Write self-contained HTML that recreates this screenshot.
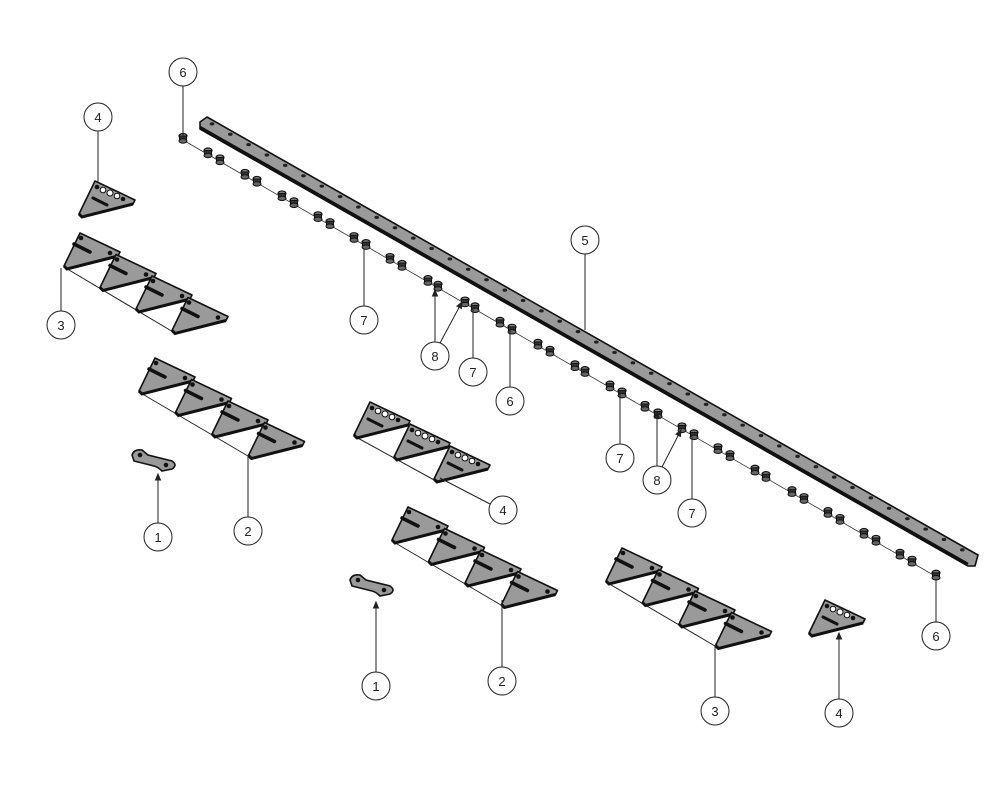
<!DOCTYPE html>
<html><head><meta charset="utf-8"><style>
html,body{margin:0;padding:0;background:#fff;}
svg{display:block;}
text{font-family:"Liberation Sans",sans-serif;font-size:13px;fill:#222;}
</style></head><body>
<svg id="s" width="1000" height="800" viewBox="0 0 1000 800" xmlns="http://www.w3.org/2000/svg">
<defs>
<g id="sec">
<polygon points="0,0 40,19 38,23 -13,36 -16,33" fill="#9a9a9a" stroke="#111" stroke-width="1.6" stroke-linejoin="round"/>
<polyline points="-16,33 -13,36 38,23" fill="none" stroke="#111" stroke-width="3"/>
<line x1="-6" y1="11" x2="10" y2="19" stroke="#111" stroke-width="3.5" stroke-linecap="round"/>
<circle cx="1" cy="5" r="2.3" fill="#111"/>
<circle cx="30" cy="20" r="2.3" fill="#111"/>
</g>
<g id="sec4">
<polygon points="0,0 40,19 38,23 -13,36 -16,33" fill="#9a9a9a" stroke="#111" stroke-width="1.6" stroke-linejoin="round"/>
<polyline points="-16,33 -13,36 38,23" fill="none" stroke="#111" stroke-width="3"/>
<circle cx="2" cy="6" r="2.3" fill="#111"/><circle cx="8" cy="9" r="2.8" fill="#fff" stroke="#111"/>
<circle cx="15" cy="12" r="3" fill="#fff" stroke="#111"/><circle cx="22" cy="15" r="2.8" fill="#fff" stroke="#111"/>
<circle cx="28" cy="18" r="2.3" fill="#111"/>
<line x1="-2" y1="17" x2="12" y2="24" stroke="#111" stroke-width="3" stroke-linecap="round"/>
</g>
<g id="bolt">
<ellipse cx="0" cy="0" rx="4" ry="2.5" fill="#888" stroke="#111" stroke-width="1.2"/>
<rect x="-3.5" y="0" width="7" height="5" fill="#333" stroke="#111" stroke-width="1"/>
<ellipse cx="0" cy="5" rx="4" ry="2.2" fill="#666" stroke="#111" stroke-width="1"/>
</g>
<g id="clip">
<path d="M0,6 Q2,0 10,1 L16,6 L40,12 Q46,16 40,20 L30,22 Q26,18 22,17 L2,12 Z" fill="#9a9a9a" stroke="#111" stroke-width="1.6"/>
<circle cx="8" cy="6" r="2.3" fill="#111"/><circle cx="34" cy="16" r="2.3" fill="#111"/>
</g>
</defs>
<!-- bar 5 -->
<polygon points="200,122 207,117 978,555 975,566 968,566 200,129" fill="#9a9a9a" stroke="#111" stroke-width="1.6" stroke-linejoin="round"/>
<line x1="200" y1="127" x2="968" y2="564" stroke="#111" stroke-width="2.5"/>
<g id="holes"></g>
<g id="bolts"></g>
<g id="parts"></g>
<g id="calls" stroke="#222" stroke-width="1" fill="none"></g>
</svg>
<script>
var NS="http://www.w3.org/2000/svg";
function el(p,t,a,txt){var e=document.createElementNS(NS,t);for(var k in a)e.setAttribute(k,a[k]);if(txt)e.textContent=txt;document.getElementById(p).appendChild(e);return e;}
function use(p,id,x,y){el(p,'use',{href:'#'+id,transform:'translate('+x+','+y+')'});}
// holes on bar
for(var i=0;i<42;i++){var x=212+i*18.3,y=121+(x-207)*0.5678;el('holes','ellipse',{cx:x,cy:y,rx:2.3,ry:1.6,fill:'#222'});}
// bolt line
el('bolts','line',{x1:183,y1:140,x2:935,y2:576,stroke:'#333','stroke-width':0.8});
var bx=[183,208,220,245,257,282,294,318,330,354,366,390,402,428,438,465,475,500,512,538,550,575,585,610,622,645,658,682,694,718,730,755,766,792,804,828,840,864,876,900,912,936];
bx.forEach(function(x){var y=140+(x-183)*0.58;use('bolts','bolt',x,y-4);});
// knife sections
function row(id,ax,ay,n,dx,dy){
 el('parts','line',{x1:ax-16,y1:ay+34,x2:ax+(n-1)*dx-14,y2:ay+(n-1)*dy+35,stroke:'#222','stroke-width':1});
 for(var i=0;i<n;i++)use('parts',id,ax+i*dx,ay+i*dy);}
row('sec',80,233,4,36,21.5);
row('sec',155,358,4,36.5,21.5);
row('sec',408,507,4,36.5,21.5);
row('sec',622,548,4,36.5,21.5);
row('sec4',370,402,3,40,22);
row('sec4',95,181,1,0,0);
row('sec4',825,600,1,0,0);
use('parts','clip',132,449);use('parts','clip',350,574);
// callouts
function call(x,y,n,lines){
 lines.forEach(function(l){el('calls','line',{x1:l[0],y1:l[1],x2:l[2],y2:l[3]});
  if(l[4]){var a=Math.atan2(l[3]-l[1],l[2]-l[0]),c=Math.cos(a),s=Math.sin(a);
  el('calls','polygon',{points:l[2]+','+l[3]+' '+(l[2]-6*c+2.5*s)+','+(l[3]-6*s-2.5*c)+' '+(l[2]-6*c-2.5*s)+','+(l[3]-6*s+2.5*c),fill:'#222'});}});
 el('calls','circle',{cx:x,cy:y,r:14,fill:'#fff'});
 el('calls','text',{x:x,y:y+5,'text-anchor':'middle',stroke:'none',fill:'#222'},String(n));}
call(183,72,6,[[183,86,183,136]]);
call(98,117,4,[[98,131,98,183]]);
call(61,325,3,[[61,311,61,268]]);
call(585,240,5,[[585,254,585,330]]);
call(364,320,7,[[364,306,364,248]]);
call(435,356,8,[[435,342,435,290,1],[440,343,462,302,1]]);
call(473,372,7,[[473,358,473,308]]);
call(510,401,6,[[510,387,510,330]]);
call(620,458,7,[[620,444,620,392]]);
call(657,480,8,[[657,466,657,412,1],[662,467,681,430,1]]);
call(692,513,7,[[692,499,692,434]]);
call(936,636,6,[[936,622,936,580]]);
call(158,537,1,[[158,523,158,474,1]]);
call(248,531,2,[[248,517,248,455]]);
call(503,510,4,[[490,504,440,478]]);
call(376,686,1,[[376,672,376,602,1]]);
call(502,681,2,[[502,667,502,600]]);
call(715,711,3,[[715,697,715,645]]);
call(839,713,4,[[839,699,839,633,1]]);
</script>
</body></html>
